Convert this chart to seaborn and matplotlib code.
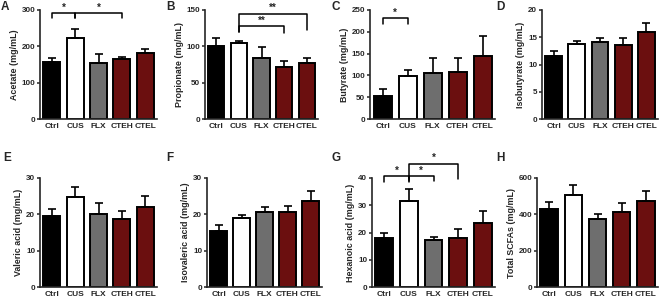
import numpy as np
import pandas as pd
import matplotlib
matplotlib.use("Agg")
import matplotlib.pyplot as plt
import seaborn as sns

sns.set_theme(style="ticks")
plt.rcParams['font.family'] = ['Liberation Sans', 'DejaVu Sans']
plt.rcParams['font.weight'] = 'bold'

groups = ["Ctrl", "CUS", "FLX", "CTEH", "CTEL"]
colors = ["#000000", "#ffffff", "#6e6e6e", "#7a0000", "#7a0000"]

acetate = [158, 224, 155, 165, 181]
acetate_err = [9, 23, 23, 7, 11]
propionate = [100.5, 104, 84, 72, 77.5]
propionate_err = [11.5, 4, 15, 8, 6]
butyrate = [53.5, 99, 105, 107, 145]
butyrate_err = [15.5, 14, 34, 34, 46]
isobutyrate = [11.6, 13.8, 14.1, 13.6, 16.0]
isobutyrate_err = [0.9, 0.6, 0.7, 1.3, 1.6]
valeric = [19.5, 24.7, 20.2, 18.6, 21.9]
valeric_err = [1.9, 2.8, 2.9, 2.3, 3.1]
isovaleric = [15.5, 18.9, 20.6, 20.7, 23.8]
isovaleric_err = [1.7, 1.0, 1.4, 1.7, 2.7]
hexanoic = [17.8, 31.4, 17.2, 17.8, 23.4]
hexanoic_err = [2.0, 4.4, 1.3, 3.5, 4.4]
total = [428, 508, 375, 412, 471]
total_err = [39, 53, 27, 49, 59]

panels = [
    ("A", "Acetate (mg/mL)", acetate, acetate_err, 300, [0, 100, 200, 300],
     [(0, 1, 291, 277, 277, "*"), (1, 3, 291, 277, 277, "*")]),
    ("B", "Propionate (mg/mL)", propionate, propionate_err, 150, [0, 50, 100, 150],
     [(1, 4, 145, 120, 122, "**"), (1, 3, 128, 120, 119, "**")]),
    ("C", "Butyrate (mg/mL)", butyrate, butyrate_err, 250, [0, 50, 100, 150, 200, 250],
     [(0, 1, 231, 219, 219, "*")]),
    ("D", "Isobutyrate (mg/mL)", isobutyrate, isobutyrate_err, 20, [0, 5, 10, 15, 20], []),
    ("E", "Valeric acid (mg/mL)", valeric, valeric_err, 30, [0, 10, 20, 30], []),
    ("F", "Isovaleric acid (mg/mL)", isovaleric, isovaleric_err, 30, [0, 10, 20, 30], []),
    ("G", "Hexanoic acid (mg/mL)", hexanoic, hexanoic_err, 40, [0, 10, 20, 30, 40],
     [(0, 1, 40.6, 38.5, 38.5, "*"), (1, 2, 40.6, 38.8, 38.8, "*"), (1, 3, 45.3, 39.5, 39.5, "*")]),
    ("H", "Total SCFAs (mg/mL)", total, total_err, 600, [0, 200, 400, 600], []),
]

# axes boxes in pixels: (left, right, top, bottom)
boxes = [
    (40, 157, 10, 119), (205, 318, 10, 119), (370, 495, 10, 119), (542, 658, 10, 119),
    (40, 157, 178, 287), (207, 322, 178, 287), (372, 495, 178, 287), (537, 658, 178, 287),
]
letter_pos = [(1, 1), (166, 1), (331, 1), (496, 1), (3, 152), (166, 152), (331, 152), (496, 152)]

W, H = 666, 301
fig = plt.figure(figsize=(W / 100, H / 100), dpi=100)

for (letter, ylabel, vals, errs, ymax, yticks, sigs), (l, r, t, b), (lx, ly) in zip(panels, boxes, letter_pos):
    ax = fig.add_axes([l / W, 1 - b / H, (r - l) / W, (b - t) / H])
    df = pd.DataFrame({"group": groups, "value": vals})
    sns.barplot(data=df, x="group", y="value", hue="group", palette=colors,
                order=groups, hue_order=groups, width=0.72, errorbar=None,
                edgecolor="black", linewidth=1.4, legend=False, ax=ax)
    xs = np.arange(len(groups))
    ax.errorbar(xs, vals, yerr=[np.zeros(len(errs)), errs], fmt="none",
                ecolor="black", elinewidth=1.2, capsize=2.6, capthick=1.2, zorder=1)
    ax.set_xlim(-0.5, 4.5)
    ax.set_ylim(0, ymax)
    ax.set_yticks(yticks)
    ax.set_xlabel("")
    ax.set_ylabel(ylabel, fontsize=6.4, fontweight="bold", labelpad=2)
    ax.tick_params(axis="y", labelsize=5.8, length=2.5, width=1.1, pad=1)
    ax.tick_params(axis="x", labelsize=6.0, length=0, pad=3)
    for lab in ax.get_xticklabels() + ax.get_yticklabels():
        lab.set_fontweight("bold")
    sns.despine(ax=ax)
    for s in ["left", "bottom"]:
        ax.spines[s].set_linewidth(1.2)
    for (i, j, top, li, rj, star) in sigs:
        ax.plot([i, i, j, j], [li, top, top, rj], color="black", lw=1.1, clip_on=False)
        ax.text((i + j) / 2, top + ymax * 0.005, star, ha="center", va="bottom",
                fontsize=7, fontweight="bold")
    fig.text(lx / W, 1 - ly / H, letter, fontsize=8.5, fontweight="bold", ha="left", va="top")

fig.savefig("out.png", dpi=100)
